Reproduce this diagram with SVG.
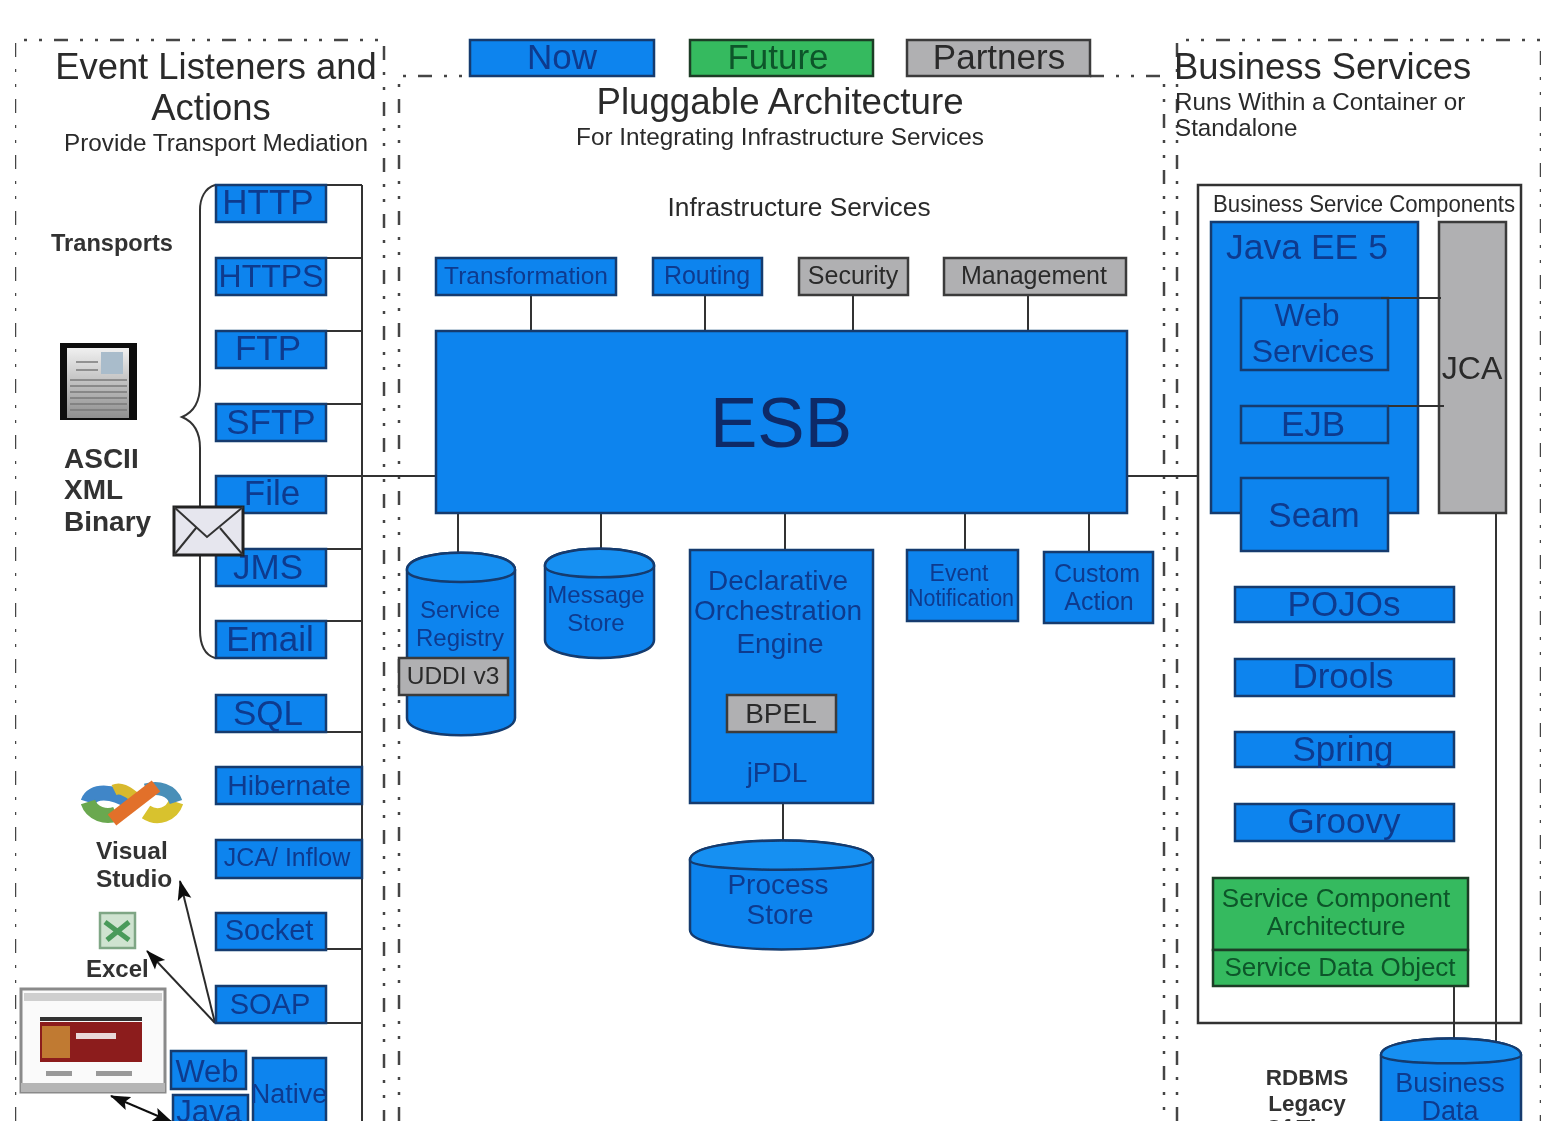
<svg xmlns="http://www.w3.org/2000/svg" width="1554" height="1121" viewBox="0 0 1554 1121">
<style>
text{font-family:"Liberation Sans",Arial,sans-serif}
.b{fill:#0c84ee;stroke:#123a6e;stroke-width:2.5}
.cap{fill:#1490f2;stroke:#123a6e;stroke-width:2.5}
.gr{fill:#b0b0b2;stroke:#3a3a3a;stroke-width:2.5}
.g{fill:#35ba5e;stroke:#1d3d28;stroke-width:2.5}
.bt{fill:#0a3a8e;text-anchor:middle}
.dk{fill:#2a2a2a;text-anchor:middle}
.gt{fill:#0d5529;text-anchor:middle}
.lb{fill:#333;font-weight:bold;text-anchor:start}
.ln{fill:none;stroke:#333;stroke-width:2}
.dash{fill:none;stroke:#444;stroke-width:2.5;stroke-dasharray:14 12 3 12 3 12}
</style>
<defs>
<marker id="ah" markerUnits="userSpaceOnUse" markerWidth="20" markerHeight="16" refX="19" refY="8" orient="auto-start-reverse"><path d="M0 1L20 8L0 15L4 8z" fill="#111"/></marker>
<linearGradient id="docg" x1="0" y1="0" x2="0" y2="1"><stop offset="0" stop-color="#f0f0f0"/><stop offset="1" stop-color="#8f8f8f"/></linearGradient>
<filter id="soft" x="0" y="0" width="100%" height="100%"><feGaussianBlur stdDeviation="0.55"/></filter>
</defs>
<rect width="1554" height="1121" fill="#fff"/>
<g filter="url(#soft)">
<g id="borders">
<path class="dash" d="M15 1121V40H384V1121"/>
<path class="dash" d="M399 1121V76H470M1090 76H1164V1121"/>
<path class="dash" d="M1177 1121V40H1541V1121"/>
</g>
<g id="connectors">
<path class="ln" d="M362 185V1121"/>
<path class="ln" d="M215 185H362M326 258H362M326 331H362M326 404H362M326 549H362M326 621H362M326 732H362M326 949H362M326 1023H362"/>
<path class="ln" d="M218 476H436M1127 476H1198"/>
<path class="ln" d="M531 296V331M705 296V331M853 296V331M1028 296V331"/>
<path class="ln" d="M458 514V556M601 514V550M785 514V550M965 514V550M1089 514V552M783 804V842"/>
<path class="ln" d="M1496 514V1045M1454 987V1042"/>
<path d="M215 1023L180 881" fill="none" stroke="#2c2c2c" stroke-width="2" marker-end="url(#ah)"/>
<path d="M215 1023L147 951" fill="none" stroke="#2c2c2c" stroke-width="2" marker-end="url(#ah)"/>
<path d="M172 1122L111 1096" fill="none" stroke="#111" stroke-width="2" marker-start="url(#ah)" marker-end="url(#ah)"/>
<path class="ln" d="M215 185C205 188 200 198 200 210V385C200 402 194 412 182 417C194 422 200 432 200 448V630C200 645 205 655 215 658"/>
</g>
<g id="legend-now"><rect class="b" x="470" y="40" width="184" height="36"/><text class="bt" x="562" y="69" font-size="35">Now</text></g>
<g id="legend-future"><rect class="g" x="690" y="40" width="183" height="36"/><text class="gt" x="778" y="69" font-size="35">Future</text></g>
<g id="legend-partners"><rect class="gr" x="907" y="40" width="183" height="36"/><text class="dk" x="999" y="69" font-size="35">Partners</text></g>

<g id="title-left">
<text x="216" y="79" font-size="36.4" class="dk">Event Listeners and</text>
<text x="211" y="120" font-size="36.4" class="dk">Actions</text>
<text x="216" y="151" font-size="24.3" class="dk">Provide Transport Mediation</text>
</g>
<g id="title-center">
<text x="780" y="114" font-size="36.7" class="dk">Pluggable Architecture</text>
<text x="780" y="145" font-size="24.3" class="dk">For Integrating Infrastructure Services</text>
<text x="799" y="216" font-size="26.3" class="dk">Infrastructure Services</text>
</g>
<g id="title-right">
<text x="1174" y="79" font-size="36.4" fill="#2a2a2a">Business Services</text>
<text x="1175" y="110" font-size="24.2" fill="#2a2a2a">Runs Within a Container or</text>
<text x="1175" y="136" font-size="24.2" fill="#2a2a2a">Standalone</text>
</g>

<g id="labels-left">
<text class="lb" x="51" y="251" font-size="23.6">Transports</text>
<text class="lb" x="64" y="468" font-size="28">ASCII</text>
<text class="lb" x="64" y="499" font-size="28">XML</text>
<text class="lb" x="64" y="531" font-size="28">Binary</text>
<text class="lb" x="96" y="859" font-size="24.5">Visual</text>
<text class="lb" x="96" y="887" font-size="24.5">Studio</text>
<text class="lb" x="86" y="977" font-size="24">Excel</text>
</g>

<g id="http"><rect class="b" x="216" y="185" width="110" height="37"/><text class="bt" x="268" y="214" font-size="35">HTTP</text></g>
<g id="https"><rect class="b" x="216" y="258" width="110" height="37"/><text class="bt" x="271" y="287" font-size="32">HTTPS</text></g>
<g id="ftp"><rect class="b" x="216" y="331" width="110" height="37"/><text class="bt" x="268" y="360" font-size="35">FTP</text></g>
<g id="sftp"><rect class="b" x="216" y="404" width="110" height="37"/><text class="bt" x="271" y="434" font-size="35">SFTP</text></g>
<g id="file"><rect class="b" x="216" y="476" width="110" height="37"/><text class="bt" x="272" y="505" font-size="35">File</text></g>
<g id="jms"><rect class="b" x="216" y="549" width="110" height="37"/><text class="bt" x="268" y="579" font-size="35">JMS</text></g>
<g id="email"><rect class="b" x="216" y="621" width="110" height="37"/><text class="bt" x="270" y="651" font-size="35">Email</text></g>
<g id="sql"><rect class="b" x="216" y="695" width="110" height="37"/><text class="bt" x="268" y="725" font-size="35">SQL</text></g>
<g id="hibernate"><rect class="b" x="216" y="767" width="146" height="37"/><text class="bt" x="289" y="795" font-size="28.5">Hibernate</text></g>
<g id="jca-inflow"><rect class="b" x="216" y="840" width="146" height="38"/><text class="bt" x="287" y="866" font-size="25">JCA/ Inflow</text></g>
<g id="socket"><rect class="b" x="216" y="913" width="110" height="37"/><text class="bt" x="269" y="940" font-size="29">Socket</text></g>
<g id="soap"><rect class="b" x="216" y="986" width="110" height="37"/><text class="bt" x="270" y="1014" font-size="29">SOAP</text></g>
<g id="web"><rect class="b" x="171" y="1051" width="75" height="38"/><text class="bt" x="207" y="1082" font-size="31">Web</text></g>
<g id="java"><rect class="b" x="173" y="1095" width="75" height="40"/><text class="bt" x="209" y="1122" font-size="31">Java</text></g>
<g id="native"><rect class="b" x="253" y="1058" width="73" height="70"/><text class="bt" x="289" y="1103" font-size="27">Native</text></g>

<g id="doc-icon">
<rect x="60" y="343" width="77" height="77" fill="#0a0a0a"/>
<rect x="67" y="348" width="62" height="70" fill="url(#docg)"/>
<rect x="101" y="352" width="22" height="22" fill="#a9bccb"/>
<path d="M70 380H127M70 386H127M70 392H127M70 398H127M70 404H127M70 410H127M76 362H98M76 370H98" stroke="#7a7a7a" stroke-width="1.5"/>
</g>
<g id="envelope">
<rect x="174" y="507" width="69" height="48" fill="#e6e6ee" stroke="#222" stroke-width="3"/>
<path d="M174 507L207 537L243 507M174 555L196 528M243 555L220 528" fill="none" stroke="#333" stroke-width="2"/>
</g>
<g id="vs-icon">
<path d="M88 802C92 790 112 790 130 802" fill="none" stroke="#3f86c8" stroke-width="15"/>
<path d="M88 802C92 814 106 818 116 814" fill="none" stroke="#6aa84f" stroke-width="15"/>
<path d="M114 790C122 786 130 794 136 798" fill="none" stroke="#d8b92e" stroke-width="11"/>
<path d="M146 812C158 820 172 814 176 802" fill="none" stroke="#d8c22e" stroke-width="15"/>
<path d="M146 790C158 786 172 790 176 802" fill="none" stroke="#4a8fb8" stroke-width="13"/>
<path d="M112 820L156 786" stroke="#e2702a" stroke-width="14" fill="none"/>
</g>
<g id="excel-icon">
<rect x="100" y="913" width="35" height="35" fill="#cfe3d0" stroke="#7fa685" stroke-width="2.5"/>
<path d="M105 922L129 940M129 922L107 940" stroke="#4a9a5a" stroke-width="5"/>
</g>
<g id="browser-icon">
<rect x="21" y="989" width="144" height="103" fill="#fafafa" stroke="#8a8a8a" stroke-width="3"/>
<rect x="21" y="1083" width="144" height="9" fill="#b5b5b5"/>
<rect x="24" y="993" width="138" height="8" fill="#cfcfcf"/>
<rect x="40" y="1022" width="102" height="40" fill="#8c1c1c"/>
<rect x="42" y="1026" width="28" height="32" fill="#c07a30"/>
<rect x="76" y="1033" width="40" height="6" fill="#e9d8d8"/>
<rect x="40" y="1017" width="102" height="4" fill="#333"/>
<rect x="46" y="1071" width="26" height="5" fill="#999"/>
<rect x="96" y="1071" width="36" height="5" fill="#999"/>
</g>

<g id="transformation"><rect class="b" x="436" y="258" width="180" height="37"/><text class="bt" x="526" y="284" font-size="24.5">Transformation</text></g>
<g id="routing"><rect class="b" x="653" y="258" width="109" height="37"/><text class="bt" x="707" y="284" font-size="25">Routing</text></g>
<g id="security"><rect class="gr" x="799" y="258" width="109" height="37"/><text class="dk" x="853" y="284" font-size="25">Security</text></g>
<g id="management"><rect class="gr" x="944" y="258" width="182" height="37"/><text class="dk" x="1034" y="284" font-size="25">Management</text></g>
<g id="esb"><rect class="b" x="436" y="331" width="691" height="182"/><text x="781" y="447" font-size="71" fill="#0d2c68" text-anchor="middle">ESB</text></g>

<g id="service-registry">
<path class="b" d="M407 570C407 547 515 547 515 570V718C515 741 407 741 407 718z"/>
<path class="cap" d="M407 570C407 547 515 547 515 570C515 586 407 586 407 570z"/>
<text class="bt" x="460" y="618" font-size="24">Service</text>
<text class="bt" x="460" y="646" font-size="24">Registry</text>
</g>
<g id="uddi"><rect class="gr" x="399" y="658" width="109" height="37"/><text class="dk" x="453" y="684" font-size="24.5">UDDI v3</text></g>
<g id="message-store">
<path class="b" d="M545 566C545 543 654 543 654 566V640C654 664 545 664 545 640z"/>
<path class="cap" d="M545 566C545 543 654 543 654 566C654 581 545 581 545 566z"/>
<text class="bt" x="596" y="603" font-size="24">Message</text>
<text class="bt" x="596" y="631" font-size="24">Store</text>
</g>
<g id="orchestration">
<rect class="b" x="690" y="550" width="183" height="253"/>
<text class="bt" x="778" y="590" font-size="28">Declarative</text>
<text class="bt" x="778" y="620" font-size="28">Orchestration</text>
<text class="bt" x="780" y="653" font-size="28">Engine</text>
<text class="bt" x="777" y="782" font-size="28">jPDL</text>
</g>
<g id="bpel"><rect class="gr" x="727" y="695" width="109" height="37"/><text class="dk" x="781" y="723" font-size="28">BPEL</text></g>
<g id="event-notification"><rect class="b" x="907" y="550" width="111" height="71"/><text class="bt" x="959" y="581" font-size="23">Event</text><text class="bt" x="961" y="606" font-size="23" textLength="106" lengthAdjust="spacingAndGlyphs">Notification</text></g>
<g id="custom-action"><rect class="b" x="1044" y="552" width="109" height="71"/><text class="bt" x="1097" y="582" font-size="25">Custom</text><text class="bt" x="1099" y="610" font-size="25">Action</text></g>
<g id="process-store">
<path class="b" d="M690 860C690 834 873 834 873 860V930C873 956 690 956 690 930z"/>
<path class="cap" d="M690 860C690 834 873 834 873 860C873 873 690 873 690 860z"/>
<text class="bt" x="778" y="894" font-size="28">Process</text>
<text class="bt" x="780" y="924" font-size="28">Store</text>
</g>

<g id="business-service-components">
<rect x="1198" y="185" width="323" height="838" fill="none" stroke="#333" stroke-width="2.5"/>
<text x="1364" y="212" font-size="24" class="dk" textLength="302" lengthAdjust="spacingAndGlyphs">Business Service Components</text>
</g>
<g id="java-ee"><rect class="b" x="1211" y="222" width="207" height="291"/><text class="bt" x="1307" y="259" font-size="35.5">Java EE 5</text></g>
<g id="web-services"><rect class="b" x="1241" y="298" width="147" height="72"/><text class="bt" x="1307" y="326" font-size="32">Web</text><text class="bt" x="1313" y="362" font-size="32">Services</text></g>
<g id="ejb"><rect class="b" x="1241" y="406" width="147" height="37"/><text class="bt" x="1313" y="436" font-size="35">EJB</text></g>
<g id="seam"><rect class="b" x="1241" y="478" width="147" height="73"/><text class="bt" x="1314" y="527" font-size="35">Seam</text></g>
<g id="jca"><rect class="gr" x="1439" y="222" width="67" height="291"/><text class="dk" x="1472" y="379" font-size="32">JCA</text></g>
<g id="connectors-jca"><path class="ln" d="M1381 298H1441M1388 406H1444"/></g>
<g id="pojos"><rect class="b" x="1235" y="587" width="219" height="35"/><text class="bt" x="1344" y="616" font-size="35">POJOs</text></g>
<g id="drools"><rect class="b" x="1235" y="659" width="219" height="37"/><text class="bt" x="1343" y="688" font-size="35">Drools</text></g>
<g id="spring"><rect class="b" x="1235" y="732" width="219" height="35"/><text class="bt" x="1343" y="761" font-size="35">Spring</text></g>
<g id="groovy"><rect class="b" x="1235" y="804" width="219" height="37"/><text class="bt" x="1344" y="833" font-size="35">Groovy</text></g>
<g id="sca"><rect class="g" x="1213" y="878" width="255" height="72"/><text class="gt" x="1336" y="907" font-size="26">Service Component</text><text class="gt" x="1336" y="935" font-size="26">Architecture</text></g>
<g id="sdo"><rect class="g" x="1213" y="950" width="255" height="36"/><text class="gt" x="1340" y="976" font-size="26">Service Data Object</text></g>
<g id="business-data">
<path class="b" d="M1381 1055C1381 1033 1521 1033 1521 1055V1135H1381z"/>
<path class="cap" d="M1381 1055C1381 1033 1521 1033 1521 1055C1521 1066 1381 1066 1381 1055z"/>
<text class="bt" x="1450" y="1092" font-size="27">Business</text>
<text class="bt" x="1450" y="1120" font-size="27">Data</text>
</g>
<g id="rdbms">
<text class="lb" x="1307" y="1085" font-size="22.5" style="text-anchor:middle">RDBMS</text>
<text class="lb" x="1307" y="1111" font-size="22.5" style="text-anchor:middle">Legacy</text>
<text class="lb" x="1307" y="1135" font-size="22.5" style="text-anchor:middle">Of Time</text>
</g>
</g>
</svg>
